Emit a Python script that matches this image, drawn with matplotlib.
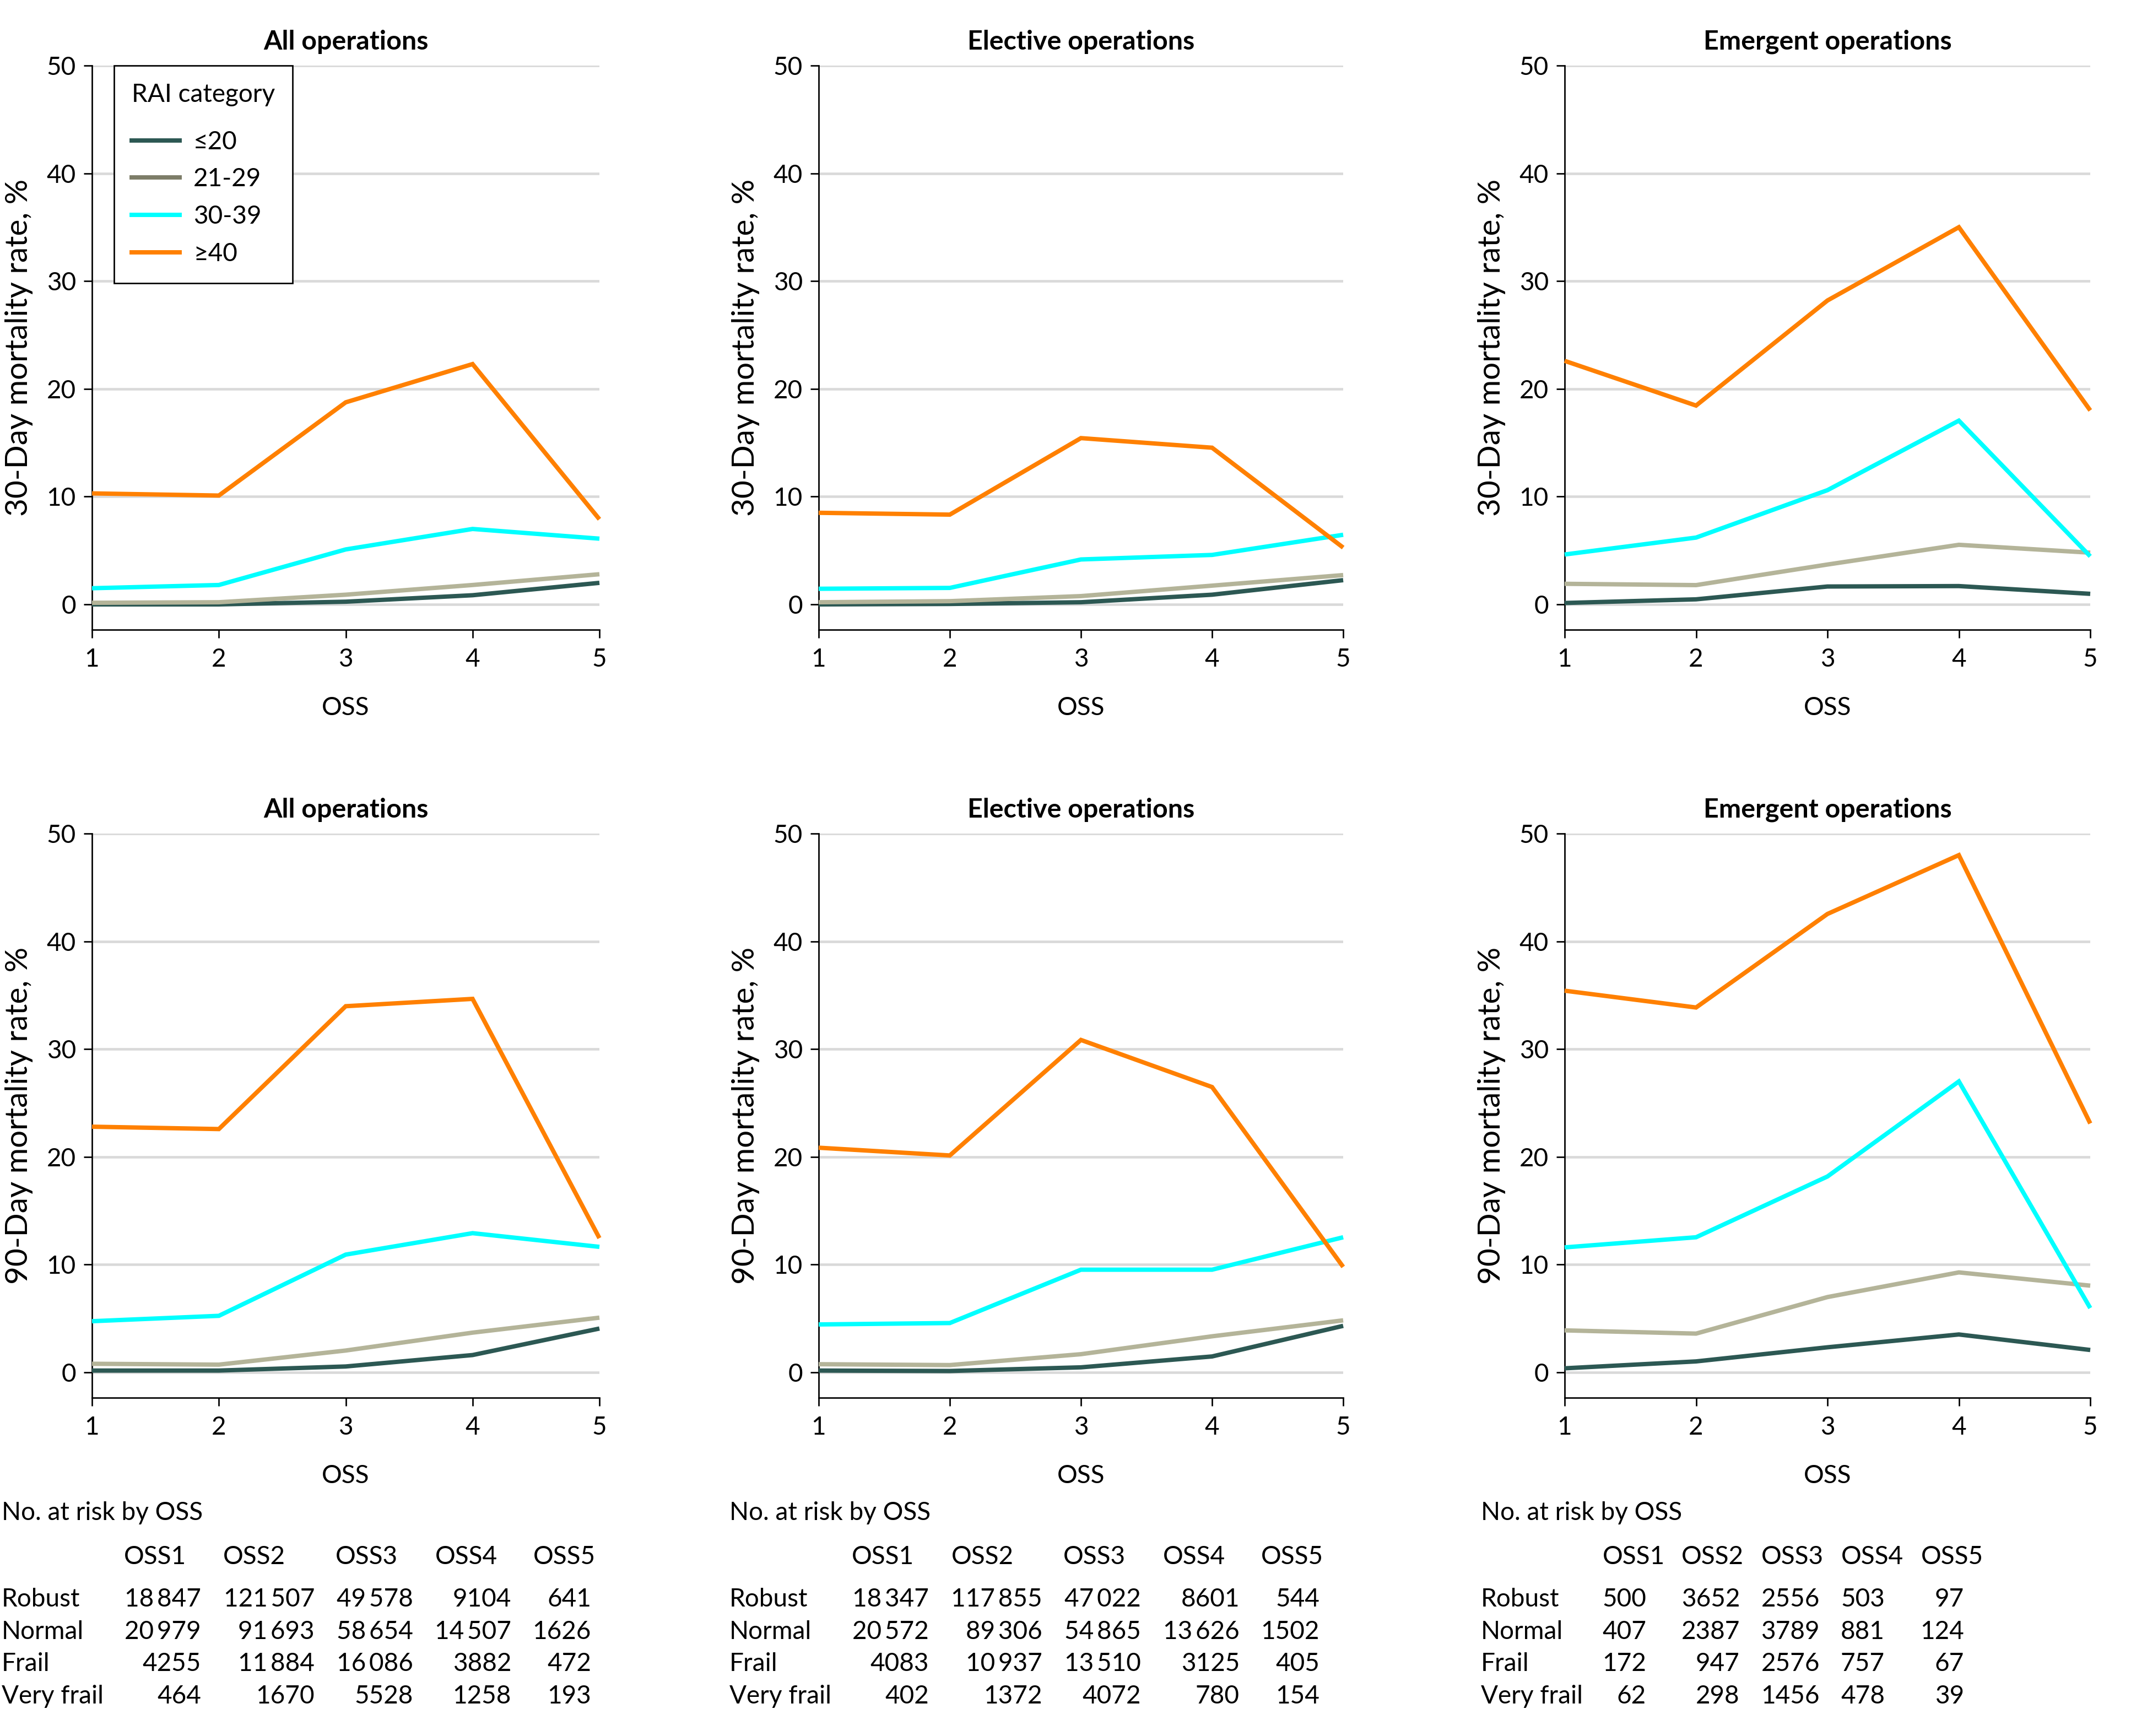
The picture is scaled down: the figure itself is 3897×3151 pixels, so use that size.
import matplotlib
matplotlib.use("Agg")
import matplotlib.pyplot as plt
from matplotlib.lines import Line2D

plt.rcParams['font.family'] = ['Lato', 'DejaVu Sans']
plt.rcParams['font.size'] = 11

# Datos: eje x (OSS) y categorias RAI
oss = [1, 2, 3, 4, 5]
rai_labels = ["≤20", "21-29", "30-39", "≥40"]
line_colors = ["#2c5853", "#b4b499", "#00ffff", "#ff8000"]
legend_colors = ["#2c5853", "#7d7d68", "#00ffff", "#ff8000"]

# Mortalidad a 30 dias (%), una lista por categoria RAI
m30_all = [[0.0, 0.0, 0.25, 0.85, 2.0],
           [0.15, 0.2, 0.9, 1.8, 2.8],
           [1.5, 1.8, 5.1, 7.0, 6.1],
           [10.3, 10.1, 18.75, 22.3, 7.9]]
m30_elective = [[0.0, 0.04, 0.2, 0.9, 2.25],
                [0.2, 0.3, 0.77, 1.74, 2.72],
                [1.45, 1.53, 4.17, 4.59, 6.46],
                [8.5, 8.33, 15.43, 14.54, 5.27]]
m30_emergent = [[0.13, 0.47, 1.66, 1.7, 0.98],
                [1.91, 1.79, 3.7, 5.53, 4.8],
                [4.63, 6.2, 10.6, 17.05, 4.46],
                [22.6, 18.45, 28.2, 35.0, 18.0]]

# Mortalidad a 90 dias (%)
m90_all = [[0.17, 0.17, 0.55, 1.61, 4.07],
           [0.8, 0.72, 2.03, 3.69, 5.08],
           [4.75, 5.25, 10.93, 12.92, 11.65],
           [22.8, 22.58, 33.98, 34.66, 12.46]]
m90_elective = [[0.17, 0.13, 0.47, 1.48, 4.32],
                [0.76, 0.68, 1.69, 3.35, 4.83],
                [4.45, 4.58, 9.53, 9.53, 12.54],
                [20.85, 20.13, 30.85, 26.48, 9.79]]
m90_emergent = [[0.38, 1.02, 2.33, 3.52, 2.08],
                [3.9, 3.6, 6.99, 9.28, 8.05],
                [11.6, 12.54, 18.18, 27.0, 5.97],
                [35.42, 33.86, 42.54, 48.0, 23.1]]

titles = ["All operations", "Elective operations", "Emergent operations"]
ylabels = ["30-Day mortality rate, %", "90-Day mortality rate, %"]

# Numero en riesgo por OSS
frailty_labels = ["Robust", "Normal", "Frail", "Very frail"]
oss_headers = ["OSS1", "OSS2", "OSS3", "OSS4", "OSS5"]
n_all = [[18847, 121507, 49578, 9104, 641],
         [20979, 91693, 58654, 14507, 1626],
         [4255, 11884, 16086, 3882, 472],
         [464, 1670, 5528, 1258, 193]]
n_elective = [[18347, 117855, 47022, 8601, 544],
              [20572, 89306, 54865, 13626, 1502],
              [4083, 10937, 13510, 3125, 405],
              [402, 1372, 4072, 780, 154]]
n_emergent = [[500, 3652, 2556, 503, 97],
              [407, 2387, 3789, 881, 124],
              [172, 947, 2576, 757, 67],
              [62, 298, 1456, 478, 39]]

#Tamaño de la figura en pixeles
W, H = 3897, 3151
fig = plt.figure(figsize=(W / 300, H / 300), dpi=300)

def fx(px):
    return px / W

def fy(py):
    return 1 - py / H

col_left = [167, 1486, 2840]
col_right = [1088, 2438, 3794]
row_top = [119, 1513]
row_bottom = [1143, 2537]

panels = [[m30_all, m30_elective, m30_emergent],
          [m90_all, m90_elective, m90_emergent]]

for r in range(2):
    for c in range(3):
        ax = fig.add_axes([fx(col_left[c]), fy(row_bottom[r]),
                           (col_right[c] - col_left[c]) / W,
                           (row_bottom[r] - row_top[r]) / H])
        for s in range(4):
            ax.plot(oss, panels[r][c][s], color=line_colors[s], lw=1.9,
                    solid_capstyle='butt', solid_joinstyle='miter',
                    clip_on=False, zorder=3)
        ax.set_xlim(1, 5)
        ax.set_ylim(-2.35, 50)
        ax.set_xticks(oss)
        ax.set_yticks([0, 10, 20, 30, 40, 50])
        for yv in [0, 10, 20, 30, 40, 50]:
            ax.axhline(yv, color="#d9d9d9", lw=1.1, zorder=1)
        for side in ["top", "right"]:
            ax.spines[side].set_visible(False)
        for side in ["left", "bottom"]:
            ax.spines[side].set_linewidth(0.65)
        ax.tick_params(direction='out', length=3.6, width=0.65,
                       labelsize=11)
        ax.tick_params(axis='y', pad=3.4)
        ax.tick_params(axis='x', pad=4.3)
        ax.set_title(titles[c], fontsize=11.6, fontweight='bold', pad=7)
        ax.set_xlabel("OSS", fontsize=11, labelpad=11)
        ax.set_ylabel(ylabels[r], fontsize=13.6, labelpad=6)

        if r == 0 and c == 0:
            handles = [Line2D([0], [0], color=col, lw=1.9) for col in legend_colors]
            leg = ax.legend(handles, rai_labels, title="RAI category",
                            loc="upper left", bbox_to_anchor=(0.043, 1.0),
                            borderaxespad=0, fancybox=False, framealpha=1,
                            edgecolor="black", fontsize=11, title_fontsize=11,
                            handlelength=1.9, handletextpad=0.55,
                            labelspacing=0.56, borderpad=0.7,
                            alignment='left')
            leg._legend_box.sep = 10.5
            leg.get_frame().set_linewidth(0.65)
            leg.set_zorder(5)

# Tablas de numero en riesgo
def fmt(n):
    if n >= 10000:
        return f"{n:,}".replace(",", "\u2009")
    return str(n)

tables = [n_all, n_elective, n_emergent]
table_left = [3, 1324, 2688]
num_right = [[365, 571, 750, 928, 1073],
             [1686, 1892, 2071, 2250, 2395],
             [2988, 3158, 3303, 3421, 3565]]
head_left = [[225, 405, 609, 790, 968],
             [1546, 1727, 1930, 2111, 2289],
             [2909, 3052, 3197, 3342, 3487]]
title_y = 2746
head_y = 2826
row_y = [2903, 2962, 3020, 3079]

for t in range(3):
    fig.text(fx(table_left[t]), fy(title_y), "No. at risk by OSS",
             ha='left', va='center', fontsize=11)
    for j in range(5):
        fig.text(fx(head_left[t][j]), fy(head_y), oss_headers[j],
                 ha='left', va='center', fontsize=11)
    for i in range(4):
        fig.text(fx(table_left[t]), fy(row_y[i]), frailty_labels[i],
                 ha='left', va='center', fontsize=11)
        for j in range(5):
            fig.text(fx(num_right[t][j]), fy(row_y[i]), fmt(tables[t][i][j]),
                     ha='right', va='center', fontsize=11)

fig.savefig("out.png", dpi=300)
